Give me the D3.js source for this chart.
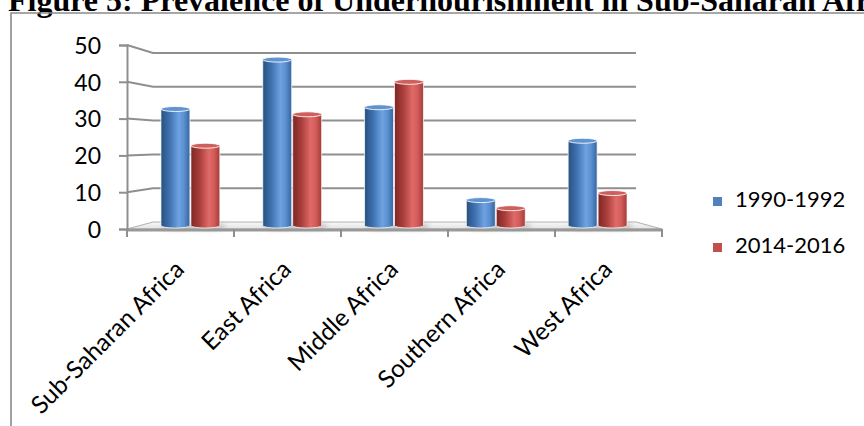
<!DOCTYPE html>
<html>
<head>
<meta charset="utf-8">
<script src="https://cdn.jsdelivr.net/npm/d3@7"></script>
<style>
	body { margin: 0; background: #fff; }
	svg { display: block; }
	.tick text, .label, .legend text { font-family: Lato, "Open Sans", sans-serif; fill: #000; }
	.title { font-family: "Liberation Serif", "Times New Roman", serif; font-weight: bold; }
</style>
</head>
<body>
<div class="chart"></div>
<script>
// data
const categories = ["Sub-Saharan Africa", "East Africa", "Middle Africa", "Southern Africa", "West Africa"];
const seriesNames = ["1990-1992", "2014-2016"];
const values1990 = [33, 47, 33.5, 7.2, 24];
const values2014 = [22.6, 31.5, 40.7, 4.9, 9.2];
const yTicks = [0, 10, 20, 30, 40, 50];
const seriesColors = ["#4f81bd", "#c0504d"];

const svg = d3.select(".chart")
	.append("svg")
	.attr("width", 864)
	.attr("height", 426);

const defs = svg.append("defs");

// cylinder gradients
const shades = [
	["#28507f", "#3f72b0", "#6ea2e0", "#5a8fd0", "#34649e"],
	["#7e2725", "#a93e3b", "#e06a67", "#d25c59", "#a43a37"]
];
shades.forEach((s, i) => {
	const g = defs.append("linearGradient")
		.attr("id", "cyl" + i)
		.attr("x1", "0").attr("x2", "1").attr("y1", "0").attr("y2", "0");
	[0, 0.3, 0.62, 0.8, 1].forEach((o, k) => {
		g.append("stop").attr("offset", o).attr("stop-color", s[k]);
	});
});

const floorGrad = defs.append("linearGradient")
	.attr("id", "floorGrad")
	.attr("x1", "0").attr("x2", "0").attr("y1", "0").attr("y2", "1");
floorGrad.append("stop").attr("offset", 0).attr("stop-color", "#f7f7f7");
floorGrad.append("stop").attr("offset", 1).attr("stop-color", "#e4e4e4");

defs.append("filter").attr("id", "blur")
	.attr("x", "-50%").attr("y", "-50%").attr("width", "200%").attr("height", "200%")
	.append("feGaussianBlur").attr("stdDeviation", 2.5);

// title, cut at the top and right as in the document
svg.append("text")
	.attr("class", "title")
	.attr("x", 8)
	.attr("y", 11)
	.style("font-size", "32px")
	.text("Figure 5: Prevalence of Undernourishment in Sub-Saharan Africa");

// chart frame
svg.append("path")
	.attr("d", "M11,440 L11,13 L880,13")
	.attr("fill", "none")
	.attr("stroke", "#8a8a8a")
	.attr("stroke-width", 1.6);

// depth offsets of the oblique 3d box
const back = { dx: 26, dy: -7 };
const mid = { dx: 13, dy: -3.5 };

// scales
const x = d3.scaleBand().domain(categories).range([127, 662]);
const xMid = d3.scaleBand().domain(categories).range([127 + mid.dx, 662 - mid.dx]);
const xSeries = d3.scaleBand().domain(seriesNames).range([0, xMid.bandwidth()]).paddingOuter(0.7);

const yFront = d3.scaleLinear().domain([0, 50]).range([229, 45]);
const yBack = d3.scaleLinear().domain([0, 50]).range([229 + back.dy, 53]);
const yMid = d3.scaleLinear().domain([0, 50]).range([229 + mid.dy, 49]);

const grid = svg.append("g").attr("class", "grid");

// floor
const x0 = x.range()[0], x1 = x.range()[1];
grid.append("path")
	.attr("d", `M${x0},${yFront(0)} L${x0 + back.dx},${yBack(0)} L${x1 - back.dx},${yBack(0)} L${x1},${yFront(0)} Z`)
	.attr("fill", "url(#floorGrad)")
	.attr("stroke", "#b4b4b4")
	.attr("stroke-width", 1.2);

// side wall connectors and back gridlines
grid.selectAll(".side")
	.data(yTicks.filter((d) => d > 0)).enter()
	.append("path")
	.attr("class", "side")
	.attr("d", (d) => `M${x0},${yFront(d)} L${x0 + back.dx},${yBack(d)} L${x1 - back.dx},${yBack(d)}`)
	.attr("fill", "none")
	.attr("stroke", "#8f8f8f")
	.attr("stroke-width", 2);

// front edge of the floor
grid.append("line")
	.attr("x1", x0).attr("x2", x1)
	.attr("y1", yFront(0) + 1).attr("y2", yFront(0) + 1)
	.attr("stroke", "#999")
	.attr("stroke-width", 3);

// y axis
const yAxis = svg.append("g")
	.attr("transform", `translate(${x0},0)`)
	.call(d3.axisLeft(yFront).tickValues(yTicks).tickSize(8).tickPadding(18));
yAxis.select(".domain").attr("stroke", "#8f8f8f").attr("stroke-width", 2);
yAxis.selectAll(".tick line").attr("stroke", "#8f8f8f").attr("stroke-width", 2);
yAxis.selectAll(".tick text").style("font-size", "23px").attr("dy", "0.36em");

// x axis ticks at category boundaries
svg.append("g")
	.selectAll("line")
	.data(categories.map((c) => x(c)).concat([x1])).enter()
	.append("line")
	.attr("x1", (d) => d).attr("x2", (d) => d)
	.attr("y1", yFront(0)).attr("y2", yFront(0) + 8)
	.attr("stroke", "#8f8f8f")
	.attr("stroke-width", 2);

// category labels
svg.append("g")
	.selectAll(".label")
	.data(categories).enter()
	.append("text")
	.attr("class", "label")
	.attr("text-anchor", "end")
	.style("font-size", "24.5px")
	.attr("transform", (d) => `translate(${x(d) + x.bandwidth() / 2 + 5},${yFront(0) + 42}) rotate(-45)`)
	.text((d) => d);

// bars
const bars = [];
categories.forEach((c, i) => {
	bars.push({ cat: c, series: 0, value: values1990[i] });
	bars.push({ cat: c, series: 1, value: values2014[i] });
});

const ry = 2.5;
const barG = svg.append("g").attr("class", "bars");

barG.selectAll(".shadow")
	.data(bars).enter()
	.append("ellipse")
	.attr("class", "shadow")
	.attr("cx", (d) => xMid(d.cat) + xSeries(seriesNames[d.series]) + xSeries.bandwidth() / 2 + 3)
	.attr("cy", yMid(0) + 1)
	.attr("rx", xSeries.bandwidth() / 2 + 2)
	.attr("ry", 3.5)
	.attr("fill", "#9a9a9a")
	.attr("opacity", 0.55)
	.attr("filter", "url(#blur)");

const cyl = barG.selectAll(".bar")
	.data(bars).enter()
	.append("g")
	.attr("class", "bar");

cyl.append("path")
	.attr("d", (d) => {
		const left = xMid(d.cat) + xSeries(seriesNames[d.series]);
		const w = xSeries.bandwidth() - 1;
		const top = yMid(d.value);
		const bot = yMid(0);
		return `M${left},${top} L${left},${bot} A${w / 2},${ry} 0 0 0 ${left + w},${bot} L${left + w},${top} Z`;
	})
	.attr("fill", (d) => `url(#cyl${d.series})`)
	.attr("stroke", "#fff")
	.attr("stroke-opacity", 0.7)
	.attr("stroke-width", 1);

cyl.append("ellipse")
	.attr("cx", (d) => xMid(d.cat) + xSeries(seriesNames[d.series]) + (xSeries.bandwidth() - 1) / 2)
	.attr("cy", (d) => yMid(d.value))
	.attr("rx", (xSeries.bandwidth() - 1) / 2)
	.attr("ry", ry)
	.attr("fill", (d) => d.series === 0 ? "#5f93d2" : "#cf5f5c")
	.attr("stroke", "#fff")
	.attr("stroke-opacity", 0.85)
	.attr("stroke-width", 1);

// legend
const legend = svg.append("g")
	.attr("class", "legend")
	.attr("transform", "translate(713,197)")
	.selectAll(".item")
	.data(seriesNames).enter()
	.append("g")
	.attr("class", "item")
	.attr("transform", (d, i) => `translate(0,${i * 46})`);

legend.append("rect")
	.attr("width", 9)
	.attr("height", 9)
	.attr("fill", (d, i) => seriesColors[i]);

legend.append("text")
	.attr("x", 22)
	.attr("y", 10)
	.style("font-size", "22px")
	.text((d) => d);
</script>
</body>
</html>
